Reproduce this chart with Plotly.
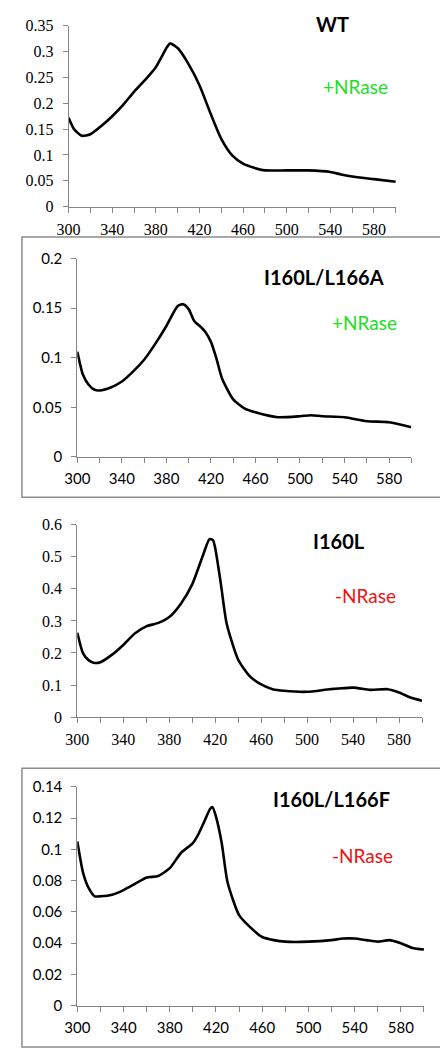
import plotly.graph_objects as go

# ---- data ----
wt_x = [300, 305, 312, 320, 330, 340, 350, 360, 370, 380, 390, 393, 400, 410, 420, 430, 440, 450, 460, 470, 480, 500, 520, 540, 550, 560, 580, 600]
wt_y = [0.172, 0.150, 0.137, 0.140, 0.156, 0.175, 0.197, 0.222, 0.245, 0.270, 0.308, 0.316, 0.307, 0.276, 0.235, 0.181, 0.131, 0.099, 0.083, 0.075, 0.070, 0.070, 0.070, 0.067, 0.062, 0.058, 0.053, 0.048]

a_x = [300, 305, 310, 315, 320, 330, 340, 350, 360, 370, 380, 390, 395, 400, 405, 410, 415, 420, 425, 430, 440, 450, 460, 480, 500, 510, 520, 540, 560, 580, 600]
a_y = [0.106, 0.083, 0.073, 0.068, 0.067, 0.070, 0.076, 0.086, 0.098, 0.114, 0.132, 0.152, 0.154, 0.149, 0.137, 0.132, 0.126, 0.116, 0.099, 0.079, 0.058, 0.049, 0.045, 0.040, 0.041, 0.042, 0.041, 0.040, 0.036, 0.035, 0.030]

b_x = [300, 305, 310, 315, 320, 330, 340, 350, 360, 370, 380, 390, 400, 410, 415, 418, 420, 425, 430, 440, 450, 460, 470, 480, 500, 520, 540, 555, 570, 580, 590, 600]
b_y = [0.263, 0.199, 0.177, 0.169, 0.171, 0.194, 0.225, 0.261, 0.283, 0.293, 0.312, 0.353, 0.414, 0.511, 0.555, 0.552, 0.527, 0.414, 0.291, 0.179, 0.128, 0.102, 0.087, 0.082, 0.079, 0.087, 0.092, 0.085, 0.087, 0.077, 0.061, 0.051]

f_x = [300, 305, 310, 315, 320, 330, 340, 350, 360, 370, 380, 390, 400, 405, 410, 415, 417, 420, 425, 430, 440, 450, 460, 470, 480, 500, 520, 530, 540, 550, 560, 570, 580, 590, 600]
f_y = [0.105, 0.085, 0.075, 0.070, 0.070, 0.071, 0.074, 0.078, 0.082, 0.083, 0.088, 0.098, 0.104, 0.110, 0.118, 0.126, 0.127, 0.121, 0.104, 0.079, 0.058, 0.050, 0.044, 0.042, 0.041, 0.041, 0.042, 0.043, 0.043, 0.042, 0.041, 0.042, 0.040, 0.037, 0.036]

x_tick_vals = [300, 340, 380, 420, 460, 500, 540, 580]
x_tick_text = ["300", "340", "380", "420", "460", "500", "540", "580"]

titles = ["WT", "I160L/L166A", "I160L", "I160L/L166F"]
labels = ["+NRase", "+NRase", "-NRase", "-NRase"]
y_max = [0.35, 0.2, 0.6, 0.14]
y_dtick = [0.05, 0.05, 0.1, 0.02]

SERIF = "Liberation Serif"
SANS = "Lato"

# ---- layout geometry (pixels) ----
W, H = 448, 1050
panels = [
    dict(x0=49, x1=386, y0=8, y1=192, font=SERIF, fs=16),
    dict(x0=58, x1=402, y0=245, y1=447, font=SANS, fs=15),
    dict(x0=58, x1=413, y0=516, y1=712, font=SERIF, fs=16),
    dict(x0=58, x1=415, y0=783, y1=1006, font=SANS, fs=15),
]
title_pos = [(321, 6), (312, 264), (327, 533), (320, 795)]
label_pos = [(344, 70), (354, 310), (355, 588), (352, 853)]
label_col = ["#22dd22", "#22dd22", "#ee1111", "#ee1111"]

series = [(wt_x, wt_y), (a_x, a_y), (b_x, b_y), (f_x, f_y)]

axis_col = "#868686"
fig = go.Figure()
for i, (p, (xs, ys)) in enumerate(zip(panels, series)):
    r = i + 1
    fig.add_trace(go.Scatter(x=xs, y=ys, mode="lines",
                             line=dict(color="black", width=2.6, shape="spline", smoothing=0.6),
                             xaxis="x" if r == 1 else "x%d" % r,
                             yaxis="y" if r == 1 else "y%d" % r,
                             showlegend=False, hoverinfo="skip"))
    xname = "xaxis" if r == 1 else "xaxis%d" % r
    yname = "yaxis" if r == 1 else "yaxis%d" % r
    fig.update_layout({
        xname: dict(
            domain=[p["x0"] / W, p["x1"] / W], anchor="y" if r == 1 else "y%d" % r, range=[300, 600],
            tickmode="array", tickvals=x_tick_vals, ticktext=x_tick_text,
            ticks="outside", ticklen=5, tickcolor=axis_col, tickwidth=1, ticklabelstandoff=3,
            minor=dict(tickmode="linear", tick0=300, dtick=20, ticks="outside", ticklen=5,
                       tickcolor=axis_col, tickwidth=1),
            showline=True, linecolor=axis_col, linewidth=1, showgrid=False, zeroline=False,
            tickfont=dict(family=p["font"], size=p["fs"], color="black"), fixedrange=True),
        yname: dict(
            domain=[1 - p["y1"] / H, 1 - p["y0"] / H], anchor="x" if r == 1 else "x%d" % r,
            range=[0, y_max[i]], tickmode="linear", tick0=0, dtick=y_dtick[i],
            ticks="outside", ticklen=5, tickcolor=axis_col, tickwidth=1, ticklabelstandoff=6,
            showline=True, linecolor=axis_col, linewidth=1, showgrid=False, zeroline=False,
            tickfont=dict(family=p["font"], size=p["fs"], color="black"), fixedrange=True),
    })

annotations = []
for i in range(4):
    tx, ty = title_pos[i]
    lx, ly = label_pos[i]
    annotations.append(dict(x=tx / W, y=1 - ty / H, xref="paper", yref="paper", text="<b>" + titles[i] + "</b>",
                            showarrow=False, xanchor="center", yanchor="middle",
                            font=dict(family=SANS, size=20, color="black")))
    annotations.append(dict(x=lx / W, y=1 - ly / H, xref="paper", yref="paper", text=labels[i],
                            showarrow=False, xanchor="center", yanchor="middle",
                            font=dict(family=SANS, size=19, color=label_col[i])))

shapes = [
    dict(type="rect", xref="paper", yref="paper", x0=1 / W, x1=433 / W, y0=1 - 488 / H, y1=1 - 223 / H,
         line=dict(color="#8c8c8c", width=1.5)),
    dict(type="rect", xref="paper", yref="paper", x0=1 / W, x1=447 / W, y0=1 - 1048 / H, y1=1 - 764 / H,
         line=dict(color="#8c8c8c", width=1.5)),
]

fig.update_layout(width=W, height=H, margin=dict(l=0, r=0, t=0, b=0),
                  font=dict(family=SERIF, size=16, color="black"),
                  paper_bgcolor="white", plot_bgcolor="white",
                  annotations=annotations, shapes=shapes)

fig.write_html("out.html")
